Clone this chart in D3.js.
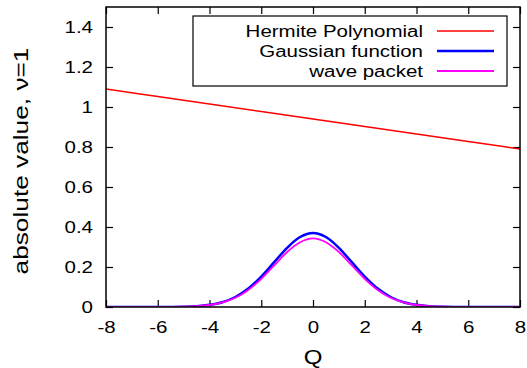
<!DOCTYPE html>
<html>
<head>
<meta charset="utf-8">
<script src="https://cdn.jsdelivr.net/npm/d3@7"></script>
<style>
  html, body { margin: 0; padding: 0; background: #fff; }
  svg { display: block; font-family: "Liberation Sans", Arial, sans-serif; }
</style>
</head>
<body>
<svg id="chart" width="527" height="368"></svg>
<script>
// Sample positions along Q
const qSamples = [-8, -7.5, -7, -6.5, -6, -5.5, -5, -4.5, -4, -3.5, -3, -2.5, -2, -1.5, -1, -0.5,
                  0, 0.5, 1, 1.5, 2, 2.5, 3, 3.5, 4, 4.5, 5, 5.5, 6, 6.5, 7, 7.5, 8];

// Hermite polynomial term (straight line across the window)
const hermiteQ = [-8, -6, -4, -2, 0, 2, 4, 6, 8];
const hermiteValues = [1.09, 1.0525, 1.015, 0.9775, 0.94, 0.9025, 0.865, 0.8275, 0.79];

// Gaussian function |ψ|
const gaussianValues = [0, 0, 0, 0, 0, 0.0004, 0.0014, 0.004, 0.011, 0.024, 0.050, 0.092, 0.152, 0.224, 0.296, 0.350,
                        0.370, 0.350, 0.296, 0.224, 0.152, 0.092, 0.050, 0.024, 0.011, 0.004, 0.0014, 0.0004, 0, 0, 0, 0, 0];

// Wave packet
const packetValues = [0, 0, 0, 0, 0, 0.0004, 0.0013, 0.004, 0.010, 0.023, 0.046, 0.085, 0.141, 0.208, 0.275, 0.324,
                      0.343, 0.324, 0.275, 0.208, 0.141, 0.085, 0.046, 0.023, 0.010, 0.004, 0.0013, 0.0004, 0, 0, 0, 0, 0];

const xTicks = [-8, -6, -4, -2, 0, 2, 4, 6, 8];
const yTicks = [0, 0.2, 0.4, 0.6, 0.8, 1, 1.2, 1.4];

const seriesNames = ["Hermite Polynomial", "Gaussian function", "wave packet"];
const seriesColors = ["#ff0000", "#0000ff", "#ff00ff"];
const seriesWidths = [1.5, 2.5, 1.8];

const plot = { left: 106, right: 520, top: 7, bottom: 307 };
const stretch = 1.28;   // horizontal widening of the label glyphs
const fontSize = 16;
const tickLen = 7;

const svg = d3.select("#chart");
const x = d3.scaleLinear().domain([-8, 8]).range([plot.left, plot.right]);
const y = d3.scaleLinear().domain([0, 1.5]).range([plot.bottom, plot.top]);

svg.append("defs").append("clipPath").attr("id", "plotClip")
  .append("rect")
  .attr("x", plot.left).attr("y", plot.top - 2)
  .attr("width", plot.right - plot.left).attr("height", plot.bottom - plot.top + 2);

// Plain hyphen-minus numbers, as in the original plot
const numFmt = d => String(+d.toFixed(2));

const bottomAxis = d3.axisBottom(x).tickValues(xTicks).tickSize(-tickLen).tickPadding(tickLen + 8).tickFormat(numFmt);
const topAxis = d3.axisTop(x).tickValues(xTicks).tickSize(-tickLen).tickFormat("");
const leftAxis = d3.axisLeft(y).tickValues(yTicks).tickSize(-tickLen).tickPadding(tickLen + 6).tickFormat(numFmt);
const rightAxis = d3.axisRight(y).tickValues(yTicks).tickSize(-tickLen).tickFormat("");

function styleAxis(g) {
  g.select(".domain").remove();
  g.selectAll(".tick line").attr("stroke", "#000").attr("stroke-width", 1.2);
  g.selectAll(".tick text")
    .attr("fill", "#000")
    .style("font-size", fontSize + "px")
    .style("font-family", "'Liberation Sans', Arial, sans-serif")
    .each(function () {
      const t = d3.select(this);
      const tx = +t.attr("x") || 0;
      t.attr("x", tx / stretch).attr("transform", `scale(${stretch},1)`);
    });
}

svg.append("g").attr("transform", `translate(0,${plot.bottom})`).call(bottomAxis).call(styleAxis);
svg.append("g").attr("transform", `translate(0,${plot.top})`).call(topAxis).call(styleAxis);
svg.append("g").attr("transform", `translate(${plot.left},0)`).call(leftAxis).call(styleAxis);
svg.append("g").attr("transform", `translate(${plot.right},0)`).call(rightAxis).call(styleAxis);

// Curves
const line = d3.line().x(d => x(d[0])).y(d => y(d[1])).curve(d3.curveCatmullRom.alpha(0.5));
const curves = svg.append("g").attr("clip-path", "url(#plotClip)");

const seriesData = [
  d3.zip(hermiteQ, hermiteValues),
  d3.zip(qSamples, gaussianValues),
  d3.zip(qSamples, packetValues)
];

seriesData.forEach((data, i) => {
  curves.append("path")
    .datum(data)
    .attr("d", line)
    .attr("fill", "none")
    .attr("stroke", seriesColors[i])
    .attr("stroke-width", seriesWidths[i])
    .attr("stroke-linejoin", "round");
});

// Plot border
svg.append("rect")
  .attr("x", plot.left).attr("y", plot.top)
  .attr("width", plot.right - plot.left).attr("height", plot.bottom - plot.top)
  .attr("fill", "none").attr("stroke", "#000").attr("stroke-width", 1.5);

// Legend
const legend = svg.append("g");
legend.append("rect")
  .attr("x", 193).attr("y", 16).attr("width", 314).attr("height", 70)
  .attr("fill", "#fff").attr("stroke", "#000").attr("stroke-width", 1.2);

seriesNames.forEach((name, i) => {
  const cy = 31 + i * 20;
  legend.append("text")
    .attr("transform", `translate(423,${cy}) scale(${stretch},1)`)
    .attr("dy", "0.35em")
    .attr("text-anchor", "end")
    .style("font-size", fontSize + "px")
    .text(name);
  legend.append("line")
    .attr("x1", 437).attr("x2", 494)
    .attr("y1", cy).attr("y2", cy)
    .attr("stroke", seriesColors[i])
    .attr("stroke-width", seriesWidths[i]);
});

// Axis titles
svg.append("text")
  .attr("transform", `translate(${x(0)},357) scale(1.2,1)`)
  .attr("dy", "0.35em")
  .attr("text-anchor", "middle")
  .style("font-size", "20px")
  .text("Q");

const yTitle = svg.append("text")
  .attr("dy", "0.35em")
  .attr("text-anchor", "middle")
  .style("font-size", "21px")
  .text("absolute value, ν=1");
const yTitleLen = yTitle.node().getComputedTextLength();
yTitle.attr("transform", `translate(21,161) rotate(-90) scale(${227 / yTitleLen},1)`);
</script>
</body>
</html>
